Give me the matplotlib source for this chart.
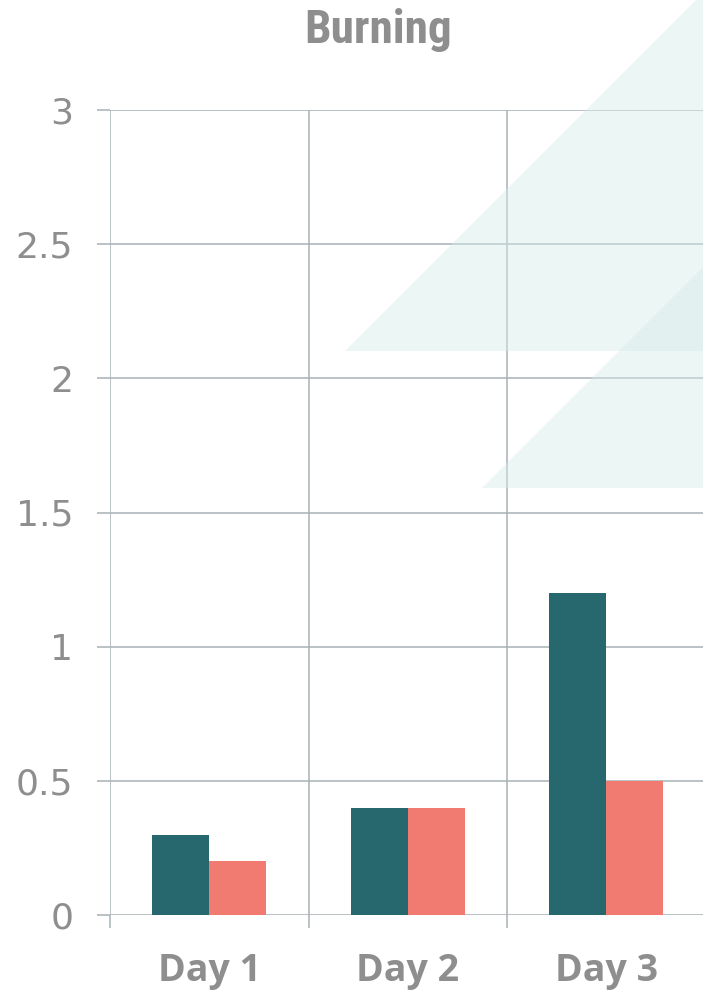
import matplotlib.pyplot as plt
import numpy as np
from matplotlib.patches import Polygon

# data
days = ['Day 1', 'Day 2', 'Day 3']
series_a = [0.3, 0.4, 1.2]
series_b = [0.2, 0.4, 0.5]
y_ticks = [0, 0.5, 1, 1.5, 2, 2.5, 3]
y_labels = ['0', '0.5', '1', '1.5', '2', '2.5', '3']

teal = '#27676e'
salmon = '#f17b71'
grid_col = '#a8b1b5'
text_col = '#8e8e8e'
narrow = ['Liberation Sans Narrow', 'Roboto Condensed', 'DejaVu Sans']

W, H = 703, 990
fig = plt.figure(figsize=(W / 100, H / 100), dpi=100)
fig.patch.set_facecolor('white')

# faint background triangles (pixel coords -> figure fraction)
def px(pts):
    return [(x / W, 1 - y / H) for x, y in pts]

tri1 = Polygon(px([(345, 351), (710, 351), (710, -14)]), closed=True,
               transform=fig.transFigure, facecolor='#d6ecea', alpha=0.45,
               edgecolor='none', zorder=0)
tri2 = Polygon(px([(482, 488), (710, 488), (710, 260)]), closed=True,
               transform=fig.transFigure, facecolor='#d6ecea', alpha=0.45,
               edgecolor='none', zorder=0)
fig.patches.extend([tri1, tri2])

ax = fig.add_axes([110 / W, 1 - 915 / H, 595.5 / W, 805 / H])
ax.set_facecolor('none')

x = np.arange(len(days))
w = 0.287
ax.bar(x - w / 2, series_a, w, color=teal, zorder=3)
ax.bar(x + w / 2, series_b, w, color=salmon, zorder=3)

ax.set_xlim(-0.5, 2.5)
ax.set_ylim(0, 3)
for s in ax.spines.values():
    s.set_visible(False)

ax.set_yticks(y_ticks)
ax.set_yticklabels(y_labels)
ax.set_xticks(x)
ax.set_xticklabels(days)
ax.set_xticks(np.arange(-0.5, 3, 1), minor=True)

ax.tick_params(axis='x', which='major', length=0, pad=27)
ax.tick_params(axis='x', which='minor', length=9.4, width=1.1, color=grid_col)
ax.tick_params(axis='y', length=9.4, width=1.1, color=grid_col, pad=17)
ax.grid(True, axis='y', which='major', color=grid_col, linewidth=1.1, zorder=1)
ax.grid(True, axis='x', which='minor', color=grid_col, linewidth=1.1, zorder=1)
ax.set_axisbelow(True)

for lbl in ax.get_yticklabels():
    lbl.set_fontfamily('DejaVu Sans')
    lbl.set_fontsize(26)
    lbl.set_color(text_col)
for lbl in ax.get_xticklabels():
    lbl.set_fontfamily(['Open Sans', 'DejaVu Sans'])
    lbl.set_fontsize(27)
    lbl.set_fontweight('bold')
    lbl.set_color(text_col)

fig.text(378 / W, 1 - 43 / H, 'Burning', ha='center', va='baseline',
         fontsize=34, fontweight='bold', color=text_col, family=narrow)

fig.savefig('out.png', dpi=100)
